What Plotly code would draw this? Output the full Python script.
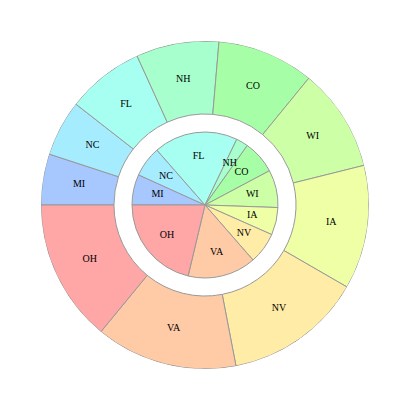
import numpy as np
import plotly.graph_objects as go

# Datos (orden horario empezando a las 9 en punto)
estados = ["MI", "NC", "FL", "NH", "CO", "WI", "IA", "NV", "VA", "OH"]
valores_ext = [18.1, 19.9, 27.5, 29.4, 34.4, 36.7, 44.0, 49.1, 50.3, 50.6]
valores_int = [24.4, 24.4, 67.0, 9.6, 26.6, 30.0, 21.9, 25.0, 54.5, 76.6]
colores = ["#a6c8ff", "#a6ecff", "#a6fff0", "#a6ffcc", "#a6ffa6",
           "#ccffa6", "#eeffa6", "#ffeca6", "#ffcaa6", "#ffa6a6"]

R_HUECO = 0.555   # radio interior del anillo exterior
R_INT = 0.445     # radio del pastel interior


def angulos(valores):
    """Centro y ancho angular de cada sector a partir de los valores."""
    v = np.array(valores, dtype=float)
    anchos = v / v.sum() * 360
    centros = np.cumsum(anchos) - anchos / 2
    return centros, anchos


c_ext, w_ext = angulos(valores_ext)
c_int, w_int = angulos(valores_int)

borde = dict(color="#999999", width=1)

fig = go.Figure()

# Anillo exterior
fig.add_trace(go.Barpolar(
    theta=c_ext, width=w_ext, r=[1 - R_HUECO] * len(estados), base=R_HUECO,
    marker=dict(color=colores, line=borde), hoverinfo="skip", showlegend=False
))

# Pastel interior
fig.add_trace(go.Barpolar(
    theta=c_int, width=w_int, r=[R_INT] * len(estados), base=0,
    marker=dict(color=colores, line=borde), hoverinfo="skip", showlegend=False
))

# Etiquetas
fuente = dict(family="Liberation Serif", size=10, color="black")
fig.add_trace(go.Scatterpolar(
    theta=c_ext, r=[(1 + R_HUECO) / 2] * len(estados), text=estados,
    mode="text", textfont=fuente, hoverinfo="skip", showlegend=False
))
fig.add_trace(go.Scatterpolar(
    theta=c_int, r=[R_INT * 0.665] * len(estados), text=estados,
    mode="text", textfont=fuente, hoverinfo="skip", showlegend=False
))

# el body de la página añade 8px, se compensa en los márgenes
fig.update_layout(
    width=409, height=409,
    margin=dict(l=33, r=48, t=33, b=48),
    paper_bgcolor="white",
    polar=dict(
        bgcolor="white",
        bargap=0,
        domain=dict(x=[0, 1], y=[0, 1]),
        radialaxis=dict(range=[0, 1], visible=False),
        angularaxis=dict(direction="clockwise", rotation=180, visible=False),
        hole=0,
    ),
)

fig.write_html("out.html")
